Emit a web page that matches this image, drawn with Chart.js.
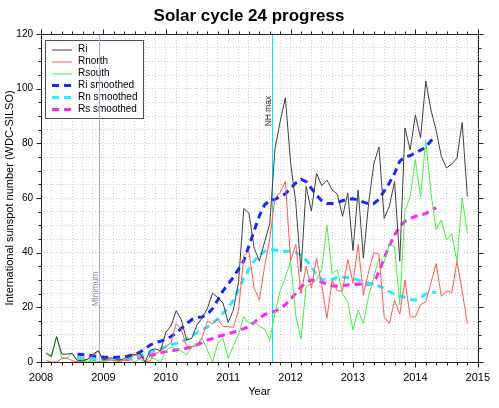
<!DOCTYPE html>
<html>
<head>
<meta charset="utf-8">
<script src="https://cdn.jsdelivr.net/npm/chart.js@4.4.1/dist/chart.umd.min.js"></script>
<style>
  body { margin: 0; background: #fff; }
  canvas { display: block; }
</style>
</head>
<body>
<canvas id="grafikSiklus" width="499" height="408"></canvas>
<script>
// data bulanan, Jan 2008 - Okt 2014
const riBulanan = [
  3.4, 2.1, 9.3, 2.9, 2.9, 3.1, 0.5, 0.5, 1.1, 2.9, 4.1, 0.8,
  1.5, 1.4, 0.7, 1.2, 2.9, 2.6, 3.5, 0.0, 4.3, 4.8, 4.1, 10.8,
  13.2, 18.8, 15.4, 8.0, 8.7, 13.6, 16.1, 19.6, 25.2, 23.5, 21.6, 14.5,
  19.0, 29.4, 56.2, 54.4, 41.6, 37.0, 43.9, 50.6, 78.0, 88.0, 96.7, 73.0,
  58.3, 33.1, 64.2, 55.2, 69.0, 64.5, 66.5, 63.0, 61.4, 53.3, 61.8, 40.8,
  62.9, 38.0, 57.9, 72.4, 78.7, 52.5, 57.0, 66.0, 36.9, 85.6, 77.6, 90.3,
  82.0, 102.8, 92.2, 84.7, 75.2, 71.0, 72.4, 74.6, 87.6, 60.6
];
const rnBulanan = [
  0.5, 0, 0, 1.2, 1.5, 0.5, 0, 0.3, 1, 2.5, 4, 0.5,
  1, 0.5, 0.3, 0.5, 1.5, 2.5, 2.5, 0, 0.5, 3, 4, 5.5,
  7, 14, 12, 5.6, 5.6, 6, 9, 15, 14, 15.7, 13, 12.9,
  12.7, 19, 39, 40.4, 27, 22.7, 35, 45, 60, 62, 66, 37,
  43, 25, 35, 27, 38, 28, 16, 30, 26, 26, 37.5, 29,
  43, 24.5, 33, 40, 39.5, 16.5, 14, 22.5, 17.5, 30, 16.5, 16.5,
  21, 22, 29, 36, 24, 26, 25.4, 36.7, 26, 14
];
const rsBulanan = [
  2.8, 1.8, 9.4, 1.4, 1.6, 3.2, 0.5, 0.2, 0.1, 0.4, 0.1, 0.3,
  0.5, 0.9, 0.4, 0.7, 1.4, 0.1, 1, 0, 1.8, 1, 0.1, 4,
  5.5, 4.8, 4, 2.6, 5.6, 6.8, 8.7, 4.4, 0, 6.8, 8.7, 1.3,
  6, 10, 16.6, 14.1, 14.8, 13, 12, 8, 18, 26, 31, 37,
  17, 8.5, 27.6, 28.5, 30, 34, 50, 32.4, 33.7, 25, 22, 11.7,
  19, 14, 24, 31, 38, 36.5, 43.4, 42, 21, 55.5, 60.5, 74,
  60.5, 81, 62, 48.3, 52, 44.6, 47, 36.7, 60, 47
];
// rata-rata 13 bulan, Jul 2008 - Apr 2014
const riHalus = [
  2.8, 2.7, 2.5, 2.3, 2.0, 1.7,
  1.7, 1.7, 1.8, 2.0, 2.2, 2.7, 3.6, 4.8, 6.2, 7.1, 7.6, 8.3,
  9.3, 10.6, 12.3, 14.0, 15.5, 16.4, 16.5, 17.5, 19.5, 22.7, 26, 28.5,
  31, 34, 37, 42.5, 48, 53.5, 57.5, 59, 59.5, 60.5, 61.5, 63.5,
  65.5, 66.9, 66, 63.5, 61, 59, 58, 58, 58.2, 59, 59.6, 59.7,
  59.3, 58.5, 57.9, 58, 59.5, 62.5, 65.5, 69, 73.5, 75, 75.5, 76.5,
  77.5, 78.5, 81, 82
];
const rnHalus = [
  1.5, 1.3, 1.2, 1.1, 1.0, 0.9,
  0.9, 0.9, 1.0, 1.1, 1.3, 1.7, 2.3, 3.0, 3.6, 4.2, 4.9, 5.6,
  6.2, 6.8, 7.5, 8.3, 9.4, 10.8, 11.8, 12.8, 14.2, 15.8, 17.8, 20,
  22.5, 26.5, 30.5, 34, 37, 39, 40.5, 41.2, 41, 40.7, 40.4, 40.6,
  40.1, 39.1, 37.3, 34.9, 31.8, 30.2, 30, 30.2, 30.9, 31, 30.9, 30.6,
  30, 29.4, 28.8, 28.2, 27.8, 27, 25.7, 24.8, 24.1, 23.7, 22.9, 22.7,
  23.5, 24.9, 25.5, 25.4
];
const rsHalus = [
  1.5, 1.4, 1.2, 1.0, 0.9, 0.8,
  0.8, 0.7, 0.7, 0.8, 1.0, 1.3, 1.7, 2.1, 2.5, 2.8, 3.3, 3.8,
  4.1, 4.4, 4.7, 5.0, 5.6, 6.3, 7.1, 8.0, 8.6, 9.3, 9.8, 10.3,
  10.9, 11.5, 12.2, 13, 14.5, 16, 17.3, 18, 18.6, 19.5, 21, 23,
  25.1, 27.5, 29.2, 30, 29.8, 29.2, 28.4, 27.8, 27.8, 28, 28.2, 28.4,
  28.5, 28.4, 28.4, 28.8, 33, 38, 42.5, 46.5, 49.5, 51.5, 52.5, 53.3,
  53.8, 54.3, 55.5, 56.5
];
const labelSeri = ["Ri", "Rnorth", "Rsouth", "Ri smoothed", "Rn smoothed", "Rs smoothed"];
const warnaSeri = ["#404040", "#ff5858", "#44ee44", "#1428ff", "#22eeff", "#ff22ff"];
const tebalSeri = [1, 1, 1, 3, 3, 3];
const tahunLabel = [2008, 2009, 2010, 2011, 2012, 2013, 2014, 2015];
const penanda = [
  { tahun: 2008.93, teks: "Minimum", warna: "#a8a8ff", warnaTeks: "#909090", tengahY: 289 },
  { tahun: 2011.70, teks: "NH max", warna: "#00e8ff", warnaTeks: "#333333", tengahY: 111 },
];

const FONT = "'Liberation Sans', Arial, sans-serif";
const DASH = [7, 5];

function bulanan(nilai, mulai) {
  return nilai.map((v, k) => ({ x: 2008 + (mulai + k + 1) / 12, y: v }));
}

function seri(i, data) {
  return {
    label: labelSeri[i],
    data: data,
    borderColor: warnaSeri[i],
    backgroundColor: warnaSeri[i],
    borderWidth: tebalSeri[i],
    borderDash: tebalSeri[i] > 1 ? DASH : [],
    pointRadius: 0,
    fill: false,
    tension: 0,
  };
}

const hiasan = {
  id: "hiasan",
  beforeDatasetsDraw(chart) {
    const { ctx, chartArea: a, scales } = chart;
    ctx.save();
    // kotak legenda
    ctx.fillStyle = "#ffffff";
    ctx.fillRect(45, 40, 98, 78);
    ctx.strokeStyle = "#505050";
    ctx.lineWidth = 1;
    ctx.strokeRect(45.5, 40.5, 98, 78);
    ctx.font = "10px " + FONT;
    ctx.textBaseline = "middle";
    ctx.textAlign = "left";
    labelSeri.forEach((teks, i) => {
      const y = 49.5 + i * 12;
      const yGaris = tebalSeri[i] > 1 ? y : Math.round(y);
      ctx.beginPath();
      ctx.strokeStyle = warnaSeri[i];
      ctx.lineWidth = tebalSeri[i];
      ctx.setLineDash(tebalSeri[i] > 1 ? DASH : []);
      ctx.moveTo(52, yGaris);
      ctx.lineTo(72, yGaris);
      ctx.stroke();
      ctx.setLineDash([]);
      ctx.fillStyle = "#000";
      ctx.fillText(teks, 78, y);
    });
    // garis penanda
    penanda.forEach((p) => {
      const px = Math.round(scales.x.getPixelForValue(p.tahun)) + 0.5;
      ctx.beginPath();
      ctx.strokeStyle = p.warna;
      ctx.lineWidth = 1;
      ctx.moveTo(px, a.top);
      ctx.lineTo(px, a.bottom);
      ctx.stroke();
      ctx.save();
      ctx.translate(px - 3.5, p.tengahY);
      ctx.rotate(-Math.PI / 2);
      ctx.font = "8.5px " + FONT;
      ctx.fillStyle = p.warnaTeks;
      ctx.textAlign = "center";
      ctx.textBaseline = "middle";
      ctx.fillText(p.teks, 0, 0);
      ctx.restore();
    });
    ctx.restore();
  },
  afterDraw(chart) {
    const { ctx, chartArea: a, scales } = chart;
    ctx.save();
    ctx.fillStyle = "#000";
    ctx.font = "bold 17px " + FONT;
    ctx.textAlign = "center";
    ctx.textBaseline = "alphabetic";
    ctx.fillText("Solar cycle 24 progress", 249, 21);

    ctx.strokeStyle = "#202020";
    ctx.lineWidth = 1;
    const L = Math.round(a.left) + 0.5, R = Math.round(a.right) + 0.5;
    const T = Math.round(a.top) + 0.5, B = Math.round(a.bottom) + 0.5;
    ctx.strokeRect(L, T, R - L, B - T);
    ctx.beginPath();
    scales.x.ticks.forEach((t) => {
      const px = Math.round(scales.x.getPixelForValue(t.value)) + 0.5;
      const besar = Math.abs(t.value - Math.round(t.value)) < 1e-6;
      const n = besar ? 5 : 3;
      ctx.moveTo(px, B); ctx.lineTo(px, B + n);
      ctx.moveTo(px, T); ctx.lineTo(px, T - n);
    });
    scales.y.ticks.forEach((t) => {
      const py = Math.round(scales.y.getPixelForValue(t.value)) + 0.5;
      const n = t.value % 20 === 0 ? 5 : 3;
      ctx.moveTo(L, py); ctx.lineTo(L - n, py);
      ctx.moveTo(R, py); ctx.lineTo(R + n, py);
    });
    ctx.stroke();
    ctx.restore();
  },
};

const grafik = new Chart(document.getElementById("grafikSiklus").getContext("2d"), {
  type: "line",
  data: {
    datasets: [
      seri(0, bulanan(riBulanan, 0)),
      seri(1, bulanan(rnBulanan, 0)),
      seri(2, bulanan(rsBulanan, 0)),
      seri(3, bulanan(riHalus, 6)),
      seri(4, bulanan(rnHalus, 6)),
      seri(5, bulanan(rsHalus, 6)),
    ],
  },
  options: {
    responsive: false,
    animation: false,
    layout: { padding: { top: 34, right: 19, left: 0, bottom: 0 } },
    plugins: {
      legend: { display: false },
      title: { display: false },
      tooltip: { enabled: false },
    },
    scales: {
      x: {
        type: "linear",
        min: 2008,
        max: 2015,
        afterBuildTicks: (s) => {
          const t = [];
          for (let k = 0; k <= 42; k++) t.push({ value: 2008 + k / 6 });
          s.ticks = t;
        },
        afterFit: (s) => { s.height = 46; },
        grid: { color: "#d0d0d0", lineWidth: 1, drawTicks: false },
        border: { display: false, dash: [1, 2] },
        ticks: {
          autoSkip: false,
          maxRotation: 0,
          padding: 9,
          color: "#000",
          font: { family: FONT, size: 11 },
          callback: (v) => {
            const r = Math.round(v);
            return Math.abs(v - r) < 1e-6 && tahunLabel.includes(r) ? String(r) : "";
          },
        },
        title: {
          display: true,
          text: "Year",
          color: "#000",
          font: { family: FONT, size: 11 },
          padding: { top: 0, bottom: 9 },
        },
      },
      y: {
        min: 0,
        max: 120,
        afterBuildTicks: (s) => {
          const t = [];
          for (let v = 0; v <= 120; v += 5) t.push({ value: v });
          s.ticks = t;
        },
        afterFit: (s) => { s.width = 41; },
        grid: { color: "#d0d0d0", lineWidth: 1, drawTicks: false },
        border: { display: false, dash: [1, 2] },
        ticks: {
          autoSkip: false,
          padding: 8,
          color: "#000",
          font: { family: FONT, size: 10 },
          callback: (v) => (v % 20 === 0 ? String(v) : ""),
        },
        title: {
          display: true,
          text: "International sunspot number (WDC-SILSO)",
          color: "#000",
          font: { family: FONT, size: 11 },
          padding: { top: 3, bottom: 0 },
        },
      },
    },
  },
  plugins: [hiasan],
});
</script>
</body>
</html>
